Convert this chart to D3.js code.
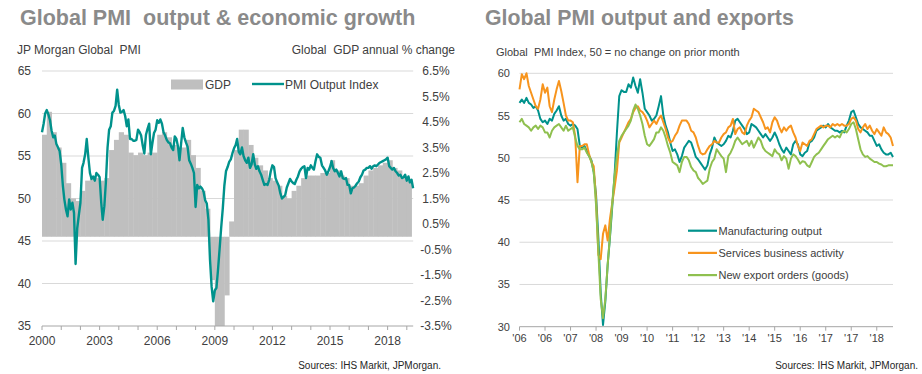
<!DOCTYPE html>
<html><head><meta charset="utf-8">
<script src="https://cdn.jsdelivr.net/npm/d3@7"></script>
<style>
html,body{margin:0;padding:0;background:#fff}
svg{display:block;font-family:"Liberation Sans",Arial,sans-serif}
text{white-space:pre}
</style></head><body>
<svg id="chart" width="922" height="374"></svg>
<script>
// ---- left panel: monthly PMI output (Jan 2000 ->), quarterly GDP y/y % ----
const pmiStart = [2000, 0];
const pmiOutput = [
  57.8, 58.8, 60.0, 60.4, 59.9, 59.2, 58.0, 57.2, 57.4, 56.4, 56.0, 55.6,
  54.0, 51.5, 49.9, 48.7, 47.9, 49.9, 48.7, 49.5, 48.3, 42.3, 46.5, 48.0,
  49.5, 53.6, 54.2, 55.2, 57.0, 54.8, 53.0, 52.3, 52.6, 52.1, 53.0, 52.8,
  52.5, 49.5, 47.5, 49.1, 52.0, 56.0, 58.1, 58.5, 60.1, 60.3, 60.9, 62.8,
  61.0, 60.1, 60.2, 60.4, 59.7, 58.5, 59.3, 57.0, 57.0, 56.8, 56.8, 56.9,
  58.1, 57.8, 57.4, 56.2, 55.3, 57.5, 58.2, 58.8, 55.2, 56.5, 57.7, 58.1,
  59.2, 58.9, 59.3, 58.8, 57.8, 57.4, 56.9, 56.6, 56.5, 56.0, 55.7, 57.3,
  57.0, 56.1, 54.5, 56.5, 58.3, 57.2, 56.6, 56.1, 54.5, 54.1, 53.6, 53.0,
  49.0, 51.6, 51.2, 51.4, 51.2, 50.8, 49.8, 49.4, 47.5, 42.8, 39.6, 37.9,
  39.2, 39.5, 41.5, 44.0, 46.5, 48.8, 51.5, 53.2, 53.7, 54.3, 54.6, 55.3,
  55.9, 56.3, 57.0, 55.5, 55.2, 56.0, 55.0, 54.5, 54.2, 54.8, 53.6, 54.0,
  55.2, 54.0, 53.5, 53.8, 53.2, 52.8, 52.2, 51.6, 51.7, 51.6, 52.2, 53.2,
  53.9, 53.7, 52.4, 51.9, 51.5, 50.6, 50.0, 50.2, 50.4, 51.3, 51.8, 52.3,
  52.0, 51.8, 51.7, 52.2, 52.6, 53.2, 53.5, 53.7, 53.8, 52.4, 53.6, 53.4,
  53.9, 53.6, 53.4, 54.4, 55.2, 54.9, 54.8, 53.9, 53.6, 53.3, 52.8, 53.2,
  53.7, 54.4, 53.6, 53.2, 53.4, 53.0, 52.6, 53.2, 52.4, 52.3, 52.4, 51.6,
  51.6, 50.6, 51.2, 51.3, 51.5, 51.8, 52.0, 52.5, 52.8, 53.3, 53.4, 53.6,
  53.6, 53.8, 53.5, 53.8, 53.9, 53.8, 54.0, 54.2, 54.3, 54.4, 54.5, 54.6,
  54.8, 53.8, 53.6, 53.4, 53.6, 53.2, 53.0, 52.7, 52.8, 52.4, 52.5, 52.8,
  52.1, 52.6, 51.9, 52.2, 51.2
];
const gdpGrowth = [
  4.0, 4.9, 4.1, 3.5,   2.9, 2.1, 1.5, 1.4,   1.8, 2.2, 2.3, 2.3,
  2.2, 2.3, 3.4, 3.8,   4.1, 4.0, 3.3, 3.2,   3.3, 3.2, 3.3, 3.3,
  4.0, 4.1, 3.9, 3.6,   3.5, 3.5, 3.8, 3.2,   2.7, 1.8, 1.1, -1.7,
  -3.5, -3.5, -2.3, 0.6, 3.4, 4.2, 4.2, 3.6,  3.1, 2.8, 2.6, 2.3,
  2.2, 2.0, 1.6, 1.5,   1.8, 2.0, 2.3, 2.4,   2.4, 2.4, 2.5, 2.5,
  3.0, 2.6, 2.4, 2.3,   2.0, 2.0, 2.1, 2.4,   2.6, 2.7, 2.8, 2.9,
  3.0, 2.7, 2.6, 2.3,   2.2
];
const pmiTicks = [35, 40, 45, 50, 55, 60, 65];
const gdpTicks = [-3.5, -2.5, -1.5, -0.5, 0.5, 1.5, 2.5, 3.5, 4.5, 5.5, 6.5];
const yearTicks = d3.range(2000, 2020);
const yearLabels = [2000, 2003, 2006, 2009, 2012, 2015, 2018];

// ---- right panel: monthly from Jan 2006 ----
const expStart = [2006, 0];
const mfgOutput = [
  56.5, 56.9, 56.5, 57.1, 56.5, 56.3, 55.9, 56.1, 55.6, 54.6, 54.2, 54.4,
  54.0, 54.6, 54.4, 55.2, 55.6, 56.1, 55.0, 54.4, 54.6, 54.0, 53.8, 54.0,
  53.8, 53.4, 51.4, 51.2, 51.4, 50.8, 50.2, 49.7, 48.3, 45.6, 40.5, 34.0,
  30.2, 33.0, 37.3, 40.6, 44.3, 48.0, 53.0, 57.3, 58.0, 57.8, 57.8, 58.7,
  58.3, 59.5, 58.5, 57.7, 59.3, 57.7, 55.8, 55.4, 55.0, 54.4, 54.6, 55.0,
  56.1, 57.3, 55.0, 53.8, 53.0, 51.8, 50.8, 51.0, 50.4, 49.5, 50.2, 51.2,
  51.6, 52.0, 51.8, 51.0, 50.1, 49.8, 49.4, 49.0, 48.6, 49.1, 50.4, 51.2,
  52.4, 51.8, 51.6, 51.4, 51.6, 52.0, 52.6, 52.4, 53.2, 54.4, 54.6, 54.2,
  53.8, 53.4, 52.8, 53.0, 54.0, 53.8, 53.6, 53.2, 52.8, 52.4, 52.8, 52.4,
  52.0, 52.4, 53.0, 52.4, 51.6, 51.0, 50.6, 51.2, 50.8, 50.4, 51.6, 52.0,
  51.6, 50.4, 50.2, 50.6, 50.8, 51.8, 52.0, 52.4, 53.2, 53.4, 53.6, 53.8,
  53.6, 54.0, 53.6, 53.4, 53.2, 53.2, 53.0, 53.2, 53.0, 53.8, 54.4, 55.4,
  55.6, 54.8, 54.0, 53.6, 53.4, 53.2, 53.0, 52.6, 52.6, 52.0, 51.4, 51.6,
  51.0, 50.6, 50.4, 50.4, 50.6, 50.1
];
const servicesActivity = [
  58.1, 59.9, 59.3, 60.0, 58.5, 57.7, 56.9, 56.1, 55.8, 56.9, 58.7, 57.7,
  58.3, 56.1, 55.4, 56.9, 58.1, 59.1, 57.9, 56.5, 55.0, 54.4, 54.4, 54.2,
  52.6, 47.1, 51.4, 51.4, 51.6, 51.6, 50.4, 49.5, 49.0, 45.0, 38.5, 38.0,
  41.0, 42.0, 40.2, 42.8, 44.7, 46.5, 48.5, 51.8, 52.4, 53.0, 53.6, 54.2,
  54.6, 55.4, 55.9, 56.1, 55.6, 55.4, 55.0, 54.4, 53.6, 54.0, 54.4, 54.0,
  54.6, 55.0, 54.2, 53.4, 52.4, 51.8, 52.0, 52.6, 53.0, 53.8, 54.4, 54.4,
  54.4, 54.0, 53.2, 53.0, 52.4, 51.4, 50.6, 50.4, 50.5, 51.0, 51.4, 51.6,
  52.0, 51.8, 51.8, 52.4, 52.8, 53.0, 53.6, 53.8, 54.6, 52.8, 53.4, 53.6,
  53.0, 52.8, 53.8, 54.4, 54.8, 55.8, 55.6, 55.4, 54.8, 54.2, 53.4, 53.6,
  53.0, 54.2, 54.8, 54.4, 53.6, 53.0, 53.6, 53.2, 53.6, 53.8, 53.0, 52.4,
  51.4, 50.8, 51.8, 51.6, 51.4, 52.0, 52.2, 52.8, 53.4, 53.6, 53.8, 53.6,
  53.8, 53.8, 53.6, 54.0, 53.8, 54.0, 53.8, 54.0, 53.8, 53.8, 54.0, 54.6,
  54.8, 54.4, 53.4, 53.0, 53.6, 54.0, 53.4, 53.8, 53.2, 52.8, 53.4, 53.0,
  52.6, 53.6, 53.0, 52.8, 52.4, 51.4
];
const newExportOrders = [
  54.2, 54.6, 54.0, 53.8, 53.6, 53.2, 53.6, 53.8, 53.4, 53.8, 53.6, 53.0,
  53.0, 52.4, 53.2, 53.6, 53.8, 54.0, 53.6, 53.2, 53.8, 53.2, 53.4, 53.6,
  52.4, 51.4, 51.0, 51.0, 51.2, 50.6, 50.2, 49.5, 48.3, 44.4, 38.8, 33.3,
  31.0, 33.3, 37.3, 40.8, 44.7, 47.9, 50.2, 52.0, 52.6, 53.0, 53.4, 53.8,
  54.4, 55.6, 56.3, 55.8, 55.0, 54.0, 52.6, 51.6, 51.4, 51.8, 52.2, 53.0,
  53.0, 53.6, 53.2, 52.4, 51.4, 50.6, 49.5, 49.3, 49.1, 48.3, 49.5, 50.1,
  50.1, 49.7, 48.9, 48.5, 48.3, 47.6, 47.3, 46.9, 47.1, 47.3, 48.7, 49.5,
  49.9, 51.0, 50.6, 50.2, 49.9, 48.3, 50.2, 50.6, 51.2, 52.0, 52.4, 52.0,
  51.6, 51.8, 52.0, 51.4, 52.0, 51.2, 51.8, 52.4, 52.0, 51.2, 50.8, 50.6,
  50.4, 50.2, 51.0, 50.6, 50.4, 49.7, 50.2, 49.9, 48.7, 49.9, 50.4, 50.2,
  49.8, 49.3, 49.6, 49.5, 49.1, 48.9, 49.5, 50.1, 50.4, 50.6, 51.0, 51.4,
  51.8, 52.2, 52.4, 52.6, 52.4, 52.6, 52.4, 53.0, 53.2, 53.0, 53.4, 54.0,
  54.2, 53.4, 52.2, 51.0, 50.4, 50.1, 50.2, 49.9, 49.7, 49.5, 49.5, 49.3,
  49.2, 49.0, 49.0, 49.1, 49.1, 49.1
];
const expTicks = [30, 35, 40, 45, 50, 55, 60];
const expLabelEvery = 11;
const expSeries = [
  {name: "Manufacturing output", values: mfgOutput, color: "#00928c"},
  {name: "Services business activity", values: servicesActivity, color: "#f7941d"},
  {name: "New export orders (goods)", values: newExportOrders, color: "#8fc04f"}
];

const svg = d3.select("#chart");
const GRID = "#d9d9d9", AXIS = "#a6a6a6", LABEL = "#404040", TITLE = "#8a8a8a";

function txt(g, x, y, s, size, anchor, fill, weight) {
  return g.append("text").attr("x", x).attr("y", y).text(s)
    .attr("font-size", size).attr("text-anchor", anchor || "start")
    .attr("fill", fill || LABEL).attr("font-weight", weight || "normal");
}

// ================= LEFT =================
(function () {
  const g = svg.append("g");
  const x = d3.scaleTime().domain([new Date(2000, 0, 1), new Date(2019, 0, 1)]).range([42, 406.8]);
  const y = d3.scaleLinear().domain([35, 65]).range([326, 71]);
  const yg = d3.scaleLinear().domain([-3.5, 6.5]).range([326, 71]);
  const xEnd = 413.2;

  txt(g, 20, 25, "Global PMI  output & economic growth", 21.5, "start", TITLE, "bold");
  txt(g, 17, 54, "JP Morgan Global  PMI", 12);
  txt(g, 455, 54, "Global  GDP annual % change", 12, "end");

  pmiTicks.filter(v => v > 35).forEach(v =>
    g.append("line").attr("x1", 42).attr("x2", xEnd).attr("y1", y(v)).attr("y2", y(v))
      .attr("stroke", GRID).attr("stroke-width", 1));

  // GDP quarterly columns
  g.append("g").selectAll("rect").data(gdpGrowth).join("rect")
    .attr("x", (d, i) => x(new Date(2000, i * 3, 1)))
    .attr("width", (d, i) => x(new Date(2000, i * 3 + 3, 1)) - x(new Date(2000, i * 3, 1)) + 0.4)
    .attr("y", d => Math.min(yg(d), yg(0)))
    .attr("height", d => Math.abs(yg(d) - yg(0)))
    .attr("fill", "#bfbfbf");

  // bottom axis
  g.append("line").attr("x1", 42).attr("x2", xEnd).attr("y1", y(35)).attr("y2", y(35))
    .attr("stroke", AXIS);
  yearTicks.forEach(yr => {
    const px = x(new Date(yr, 0, 1));
    g.append("line").attr("x1", px).attr("x2", px).attr("y1", 326).attr("y2", 330).attr("stroke", AXIS);
  });
  yearLabels.forEach(yr => txt(g, x(new Date(yr, 0, 1)), 345, String(yr), 12, "middle"));

  pmiTicks.forEach(v => txt(g, 31, y(v) + 4.3, String(v), 12, "end"));
  gdpTicks.forEach(v => txt(g, 436, yg(v) + 4.3, v.toFixed(1) + "%", 12, "middle"));

  const line = d3.line().x((d, i) => x(new Date(pmiStart[0], pmiStart[1] + i, 1))).y(d => y(d));
  g.append("path").datum(pmiOutput).attr("d", line).attr("fill", "none")
    .attr("stroke", "#00928c").attr("stroke-width", 2.4).attr("stroke-linejoin", "round");

  // legend
  g.append("rect").attr("x", 171).attr("y", 79.5).attr("width", 32).attr("height", 10).attr("fill", "#bfbfbf");
  txt(g, 205, 88.7, "GDP", 12);
  g.append("line").attr("x1", 252).attr("x2", 284).attr("y1", 84).attr("y2", 84)
    .attr("stroke", "#00928c").attr("stroke-width", 2.4);
  txt(g, 285, 88.7, "PMI Output Index", 12);

  txt(g, 441, 369, "Sources: IHS Markit, JPMorgan.", 10, "end", "#262626");
})();

// ================= RIGHT =================
(function () {
  const g = svg.append("g");
  const n = mfgOutput.length;
  const x = d3.scaleLinear().domain([0, n - 1]).range([519.5, 893]);
  const y = d3.scaleLinear().domain([30, 60]).range([326.7, 73.3]);

  txt(g, 485, 25, "Global PMI output and exports", 21.3, "start", TITLE, "bold");
  txt(g, 496, 56, "Global  PMI Index, 50 = no change on prior month", 11);

  expTicks.filter(v => v > 30).forEach(v =>
    g.append("line").attr("x1", 519.5).attr("x2", 893).attr("y1", y(v)).attr("y2", y(v))
      .attr("stroke", GRID).attr("stroke-width", 1));
  g.append("line").attr("x1", 519.5).attr("x2", 893).attr("y1", y(30)).attr("y2", y(30)).attr("stroke", AXIS);

  expTicks.forEach(v => txt(g, 510, y(v) + 4, String(v), 11, "end"));

  d3.range(0, n, expLabelEvery).forEach(i => {
    const px = x(i);
    const d = new Date(expStart[0], expStart[1] + i, 1);
    g.append("line").attr("x1", px).attr("x2", px).attr("y1", y(30)).attr("y2", y(30) + 4).attr("stroke", AXIS);
    txt(g, px, 342, "'" + String(d.getFullYear()).slice(2), 11, "middle");
  });

  const line = d3.line().x((d, i) => x(i)).y(d => y(d));
  expSeries.forEach(s => g.append("path").datum(s.values).attr("d", line).attr("fill", "none")
    .attr("stroke", s.color).attr("stroke-width", 2).attr("stroke-linejoin", "round"));

  expSeries.forEach((s, k) => {
    const ly = 230.7 + k * 22.2;
    g.append("line").attr("x1", 688).attr("x2", 717).attr("y1", ly).attr("y2", ly)
      .attr("stroke", s.color).attr("stroke-width", 2.2);
    txt(g, 718.5, ly + 4, s.name, 11);
  });

  txt(g, 918, 369, "Sources: IHS Markit, JPMorgan.", 10, "end", "#262626");
})();
</script>
</body></html>
